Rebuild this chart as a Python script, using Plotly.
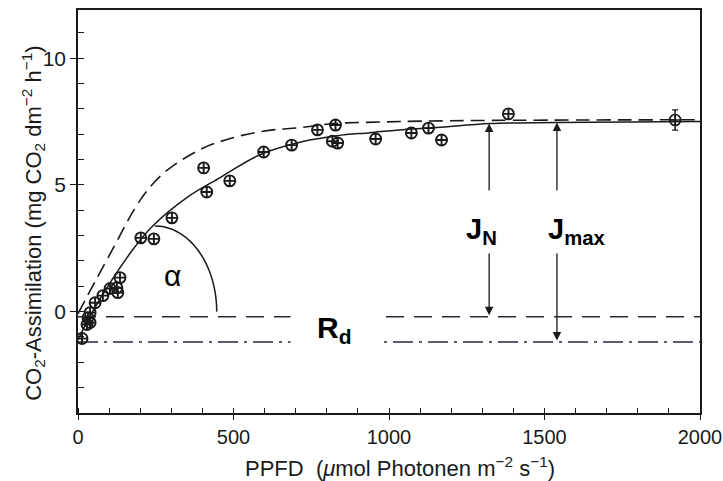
import numpy as np
import plotly.graph_objects as go

# Measured CO2 assimilation vs. photon flux density
ppfd = [13, 29, 39, 32, 39, 55, 80, 103, 128, 125, 135, 202, 244, 302, 404, 414,
        488, 597, 687, 770, 828, 835, 818, 957, 1072, 1127, 1169, 1384]
assim = [-1.06, -0.51, -0.43, -0.24, -0.04, 0.35, 0.63, 0.91, 0.75, 0.94, 1.34,
         2.91, 2.87, 3.70, 5.67, 4.72, 5.16, 6.30, 6.57, 7.17, 7.36, 6.65, 6.72,
         6.81, 7.05, 7.24, 6.77, 7.80]

# Mean value at high light with its error
ppfd_mean = [1920]
assim_mean = [7.56]
assim_err = [0.40]

# Net assimilation curve (solid)
net_x = [0, 45, 174, 241, 350, 457, 585, 723, 833, 939, 1045, 1154, 1325, 1540, 2000]
net_y = [-1.12, -0.04, 2.41, 3.39, 4.50, 5.29, 6.19, 6.71, 6.94, 7.06, 7.18, 7.26,
         7.42, 7.46, 7.50]

# Gross assimilation curve (dashed)
gross_x = [0, 109, 199, 273, 392, 498, 608, 714, 820, 907, 1196, 2000]
gross_y = [-0.08, 2.41, 4.38, 5.44, 6.39, 6.86, 7.14, 7.26, 7.42, 7.46, 7.53, 7.57]

# Reference levels
zero_level = -0.2
rd_level = -1.2

# Arrow positions for J_N and J_max
jn_x, jn_top = 1322, 7.42
jmax_x, jmax_top = 1540, 7.46

FONT = "Liberation Sans, Arial, Helvetica, sans-serif"
INK = "#1a1a1a"

fig = go.Figure()

fig.add_trace(go.Scatter(x=[0, 2000], y=[zero_level, zero_level], mode="lines",
                         line=dict(color="#2a2a3a", width=1.6, dash="18px,10px"),
                         hoverinfo="skip"))
fig.add_trace(go.Scatter(x=[0, 2000], y=[rd_level, rd_level], mode="lines",
                         line=dict(color="#2a2540", width=1.6, dash="20px,6px,3px,6px"),
                         hoverinfo="skip"))
fig.add_trace(go.Scatter(x=gross_x, y=gross_y, mode="lines", line_shape="spline",
                         line=dict(color=INK, width=1.6, dash="14px,7px"),
                         hoverinfo="skip"))
fig.add_trace(go.Scatter(x=net_x, y=net_y, mode="lines", line_shape="spline",
                         line=dict(color=INK, width=1.5), hoverinfo="skip"))
fig.add_trace(go.Scatter(x=ppfd, y=assim, mode="markers",
                         marker=dict(symbol="circle-cross-open", size=11,
                                     color=INK, line=dict(width=1.9))))
fig.add_trace(go.Scatter(x=ppfd_mean, y=assim_mean, mode="markers",
                         marker=dict(symbol="circle-cross-open", size=11,
                                     color=INK, line=dict(width=1.7)),
                         error_y=dict(type="data", array=assim_err, color=INK,
                                      thickness=1.4, width=3)))

# Quarter-ellipse marking the initial slope alpha
arc_cx, arc_cy, arc_rx, arc_ry = 247, 0.0, 199, 3.38
t = np.linspace(np.pi / 2, 0, 40)
arc_px = arc_cx + arc_rx * np.cos(t)
arc_py = arc_cy + arc_ry * np.sin(t)
path = "M " + " L ".join(f"{a:.2f},{b:.3f}" for a, b in zip(arc_px, arc_py))
fig.add_shape(type="path", path=path, xref="x", yref="y",
              line=dict(color=INK, width=1.5))

annotations = []
# Double-headed arrows
for ax_x, top, bottom in [(jn_x, jn_top, zero_level), (jmax_x, jmax_top, rd_level)]:
    annotations.append(dict(x=ax_x, y=top, ax=ax_x, ay=bottom, axref="x", ayref="y",
                            xref="x", yref="y", text="", showarrow=True,
                            arrowside="end+start", arrowhead=2, arrowsize=1.3,
                            arrowwidth=1.3, arrowcolor=INK, standoff=0,
                            startstandoff=0))
# White label panels
annotations.append(dict(x=1505, y=3.55, xref="x", yref="y", text=" ", showarrow=False,
                        width=213, height=60, bgcolor="white"))
annotations.append(dict(x=826, y=-0.72, xref="x", yref="y", text=" ", showarrow=False,
                        width=85, height=50, bgcolor="white"))
# Labels
annotations.append(dict(x=1296, y=3.2, xref="x", yref="y", text="<b>J<sub>N</sub></b>",
                        showarrow=False, font=dict(family=FONT, size=29, color="black")))
annotations.append(dict(x=1604, y=3.2, xref="x", yref="y", text="<b>J<sub>max</sub></b>",
                        showarrow=False, font=dict(family=FONT, size=29, color="black")))
annotations.append(dict(x=826, y=-0.72, xref="x", yref="y", text="<b>R<sub>d</sub></b>",
                        showarrow=False, font=dict(family=FONT, size=30, color="black")))
annotations.append(dict(x=304, y=1.42, xref="x", yref="y", text="α",
                        showarrow=False, font=dict(family=FONT, size=30, color="black")))
# Axis titles
annotations.append(dict(x=0.518, y=-0.134, xref="paper", yref="paper",
                        xanchor="center", yanchor="middle",
                        text="PPFD  (<i>μ</i>mol Photonen m<sup>−2</sup> s<sup>−1</sup>)",
                        showarrow=False, font=dict(family=FONT, size=22, color=INK)))
annotations.append(dict(x=-0.072, y=0.47, xref="paper", yref="paper", textangle=-90,
                        xanchor="center", yanchor="middle",
                        text="CO<sub>2</sub>-Assimilation (mg CO<sub>2</sub> dm<sup>−2</sup> h<sup>−1</sup>)",
                        showarrow=False, font=dict(family=FONT, size=22, color=INK)))

fig.update_layout(
    width=723, height=481,
    margin=dict(l=78, r=23, t=10, b=68, autoexpand=False),
    paper_bgcolor="white", plot_bgcolor="white",
    showlegend=False,
    annotations=annotations,
    font=dict(family=FONT, color=INK),
)
fig.update_xaxes(range=[0, 2000], tickvals=[0, 500, 1000, 1500, 2000],
                 ticks="outside", ticklen=5, tickwidth=1.4, tickcolor=INK,
                 minor=dict(dtick=100, tick0=0, ticks="inside", ticklen=5,
                            tickwidth=1.2, tickcolor=INK),
                 showline=True, linecolor=INK, linewidth=1.6, mirror=True,
                 showgrid=False, zeroline=False, automargin=False,
                 tickfont=dict(family=FONT, size=20, color=INK))
fig.update_yaxes(range=[-4, 11.9], tickvals=[0, 5, 10],
                 ticks="outside", ticklen=6, tickwidth=1.4, tickcolor=INK,
                 minor=dict(dtick=1, tick0=0, ticks="inside", ticklen=6,
                            tickwidth=1.2, tickcolor=INK),
                 showline=True, linecolor=INK, linewidth=1.6, mirror=True,
                 showgrid=False, zeroline=False, automargin=False,
                 tickfont=dict(family=FONT, size=21, color=INK))

fig.write_html("out.html")
